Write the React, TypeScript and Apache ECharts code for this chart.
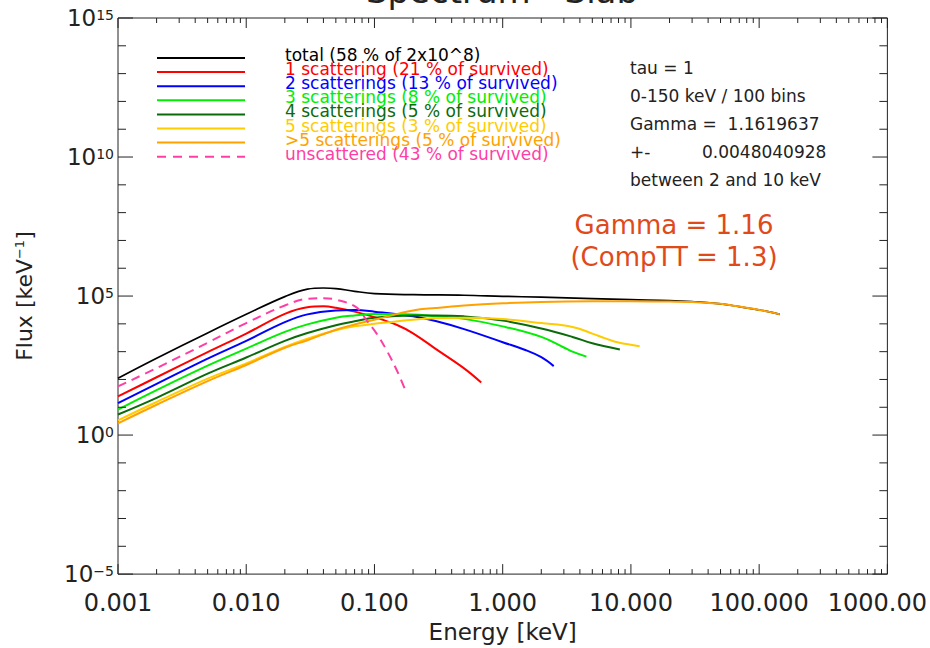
import React, { useEffect, useRef } from 'react';
import * as echarts from 'echarts';

const FONT = 'DejaVu Sans';

// ---- series meta ----
const seriesNames = [
  'total (58 % of 2x10^8)',
  '1 scattering (21 % of survived)',
  '2 scatterings (13 % of survived)',
  '3 scatterings (8 % of survived)',
  '4 scatterings (5 % of survived)',
  '5 scatterings (3 % of survived)',
  '>5 scatterings (5 % of survived)',
  'unscattered (43 % of survived)',
];
const seriesColors = ['#000000', '#ff0000', '#0000ff', '#00ee00', '#0b6b0b', '#ffcc00', '#ffa200', '#ff3ea5'];

// ---- data (energy keV, flux keV^-1) ----
const totalE = [0.001, 0.002, 0.005, 0.01, 0.02, 0.03, 0.04, 0.05, 0.07, 0.1, 0.2, 0.5, 1, 2, 5, 10, 20, 30, 50, 70, 100, 120, 145];
const totalF = [110, 575, 4.7e3, 2.2e4, 9.55e4, 1.78e5, 1.95e5, 1.86e5, 1.48e5, 1.23e5, 1.12e5, 1.07e5, 9.8e4, 9.1e4, 8.1e4, 7.4e4, 6.9e4, 6.3e4, 5.25e4, 4.17e4, 3.16e4, 2.7e4, 2.19e4];

const s1E = [0.001, 0.002, 0.005, 0.01, 0.02, 0.03, 0.04, 0.05, 0.07, 0.1, 0.15, 0.2, 0.3, 0.5, 0.68];
const s1F = [24.5, 120, 955, 4.47e3, 2.29e4, 3.98e4, 4.27e4, 3.8e4, 2.75e4, 1.74e4, 9.1e3, 4.57e3, 1.26e3, 251, 77.6];

const s2E = [0.001, 0.002, 0.005, 0.01, 0.02, 0.03, 0.05, 0.07, 0.1, 0.2, 0.3, 0.5, 1, 1.5, 2, 2.5];
const s2F = [14.1, 69.2, 562, 2.45e3, 1.15e4, 2.19e4, 3.02e4, 3.16e4, 2.75e4, 1.86e4, 1.26e4, 6.46e3, 2.19e3, 1.15e3, 631, 302];

const s3E = [0.001, 0.002, 0.005, 0.01, 0.02, 0.03, 0.05, 0.07, 0.1, 0.2, 0.3, 0.5, 1, 2, 3, 3.5, 4.5];
const s3F = [8.3, 41.7, 316, 1.29e3, 5.13e3, 9.55e3, 1.66e4, 2.0e4, 2.24e4, 2.19e4, 1.86e4, 1.51e4, 8.13e3, 3.39e3, 1.41e3, 1.0e3, 661];

const s4E = [0.001, 0.002, 0.005, 0.01, 0.02, 0.03, 0.05, 0.07, 0.1, 0.2, 0.3, 0.5, 1, 2, 3.5, 5, 8.2];
const s4F = [5.5, 21.9, 162, 617, 2.45e3, 4.68e3, 8.91e3, 1.23e4, 1.66e4, 2.0e4, 2.0e4, 1.86e4, 1.32e4, 6.76e3, 3.39e3, 2.0e3, 1.2e3];

const s5E = [0.001, 0.002, 0.005, 0.01, 0.02, 0.03, 0.05, 0.07, 0.1, 0.2, 0.3, 0.5, 1, 2, 3.5, 5, 6.4, 8, 11.7];
const s5F = [3.39, 15.5, 107, 380, 1.48e3, 2.95e3, 5.89e3, 8.13e3, 1.0e4, 1.41e4, 1.58e4, 1.66e4, 1.48e4, 1.07e4, 7.76e3, 4.47e3, 2.95e3, 2.14e3, 1.58e3];

const s6E = [0.001, 0.002, 0.005, 0.01, 0.02, 0.03, 0.05, 0.07, 0.1, 0.2, 0.3, 0.5, 1, 2, 5, 10, 20, 30, 50, 70, 100, 120, 145];
const s6F = [2.63, 12.3, 87.1, 331, 1.38e3, 2.57e3, 6.17e3, 9.55e3, 1.41e4, 3.02e4, 3.72e4, 4.57e4, 5.5e4, 6.17e4, 6.46e4, 6.46e4, 6.31e4, 6.17e4, 5.25e4, 4.17e4, 3.16e4, 2.7e4, 2.19e4];

const unsE = [0.001, 0.002, 0.005, 0.01, 0.02, 0.03, 0.04, 0.05, 0.072, 0.087, 0.104, 0.124, 0.149, 0.178];
const unsF = [56.2, 257, 2.09e3, 1.07e4, 4.57e4, 7.94e4, 8.32e4, 7.41e4, 3.98e4, 1.32e4, 4.47e3, 1.15e3, 219, 32.4];

const seriesE = [totalE, s1E, s2E, s3E, s4E, s5E, s6E, unsE];
const seriesF = [totalF, s1F, s2F, s3F, s4F, s5F, s6F, unsF];

// ---- axes ----
const X_MIN = 0.001;
const X_MAX = 1000;
const Y_MIN = 1e-5;
const Y_MAX = 1e15;
const xMajorTicks = [0.001, 0.01, 0.1, 1, 10, 100, 1000];
const xTickLabels = ['0.001', '0.010', '0.100', '1.000', '10.000', '100.000', '1000.00'];
const yMajorTicks = [1e-5, 1, 1e5, 1e10, 1e15];
const yTickExponents = ['\u22125', '0', '5', '10', '15'];
const xMinorTicks: number[] = [];
for (let k = -3; k < 3; k++) for (let m = 2; m <= 9; m++) xMinorTicks.push(m * Math.pow(10, k));
const yMinorTicks: number[] = [];
for (let k = -4; k < 15; k++) if (k % 5 !== 0) yMinorTicks.push(Math.pow(10, k));

// ---- annotation text ----
const infoLines = ['tau = 1', '0-150 keV / 100 bins', 'Gamma =  1.1619637', 'between 2 and 10 keV'];
const errLabel = '+-';
const errValue = '0.0048040928';
const gammaLines = ['Gamma = 1.16', '(CompTT = 1.3)'];
const titleText = 'Spectrum - Slab';

const findIdx = (arr: number[], v: number) =>
  arr.findIndex((t) => Math.abs(Math.log10(t) - Math.log10(v)) < 1e-6);

export default function App() {
  const ref = useRef<HTMLDivElement>(null);
  useEffect(() => {
    document.body.style.margin = '0';
    if (!ref.current) return;
    const chart = echarts.init(ref.current, undefined, { renderer: 'svg' });

    const lineSeries = seriesNames.map((name, i) => ({
      name,
      type: 'line',
      data: seriesE[i].map((e, j) => [e, seriesF[i][j]]),
      showSymbol: false,
      symbol: 'none',
      smooth: 0.4,
      lineStyle: {
        color: seriesColors[i],
        width: i === 0 ? 1.7 : 2,
        type: i === 7 ? [9, 6] : 'solid',
      },
      itemStyle: { color: seriesColors[i] },
      silent: true,
      z: 2 + i,
    }));

    const tickData: number[][] = [];
    xMajorTicks.forEach((v) => tickData.push([v, 1, 0, 10]));
    xMinorTicks.forEach((v) => tickData.push([v, 1, 0, 5]));
    yMajorTicks.forEach((v) => tickData.push([1, v, 1, 15]));
    yMinorTicks.forEach((v) => tickData.push([1, v, 1, 8]));

    const tickStyle = { stroke: '#222', lineWidth: 1 };
    const tickSeries = {
      type: 'custom',
      silent: true,
      clip: false,
      z: 20,
      data: tickData,
      renderItem: (params: any, api: any) => {
        const xv = api.value(0);
        const yv = api.value(1);
        const kind = api.value(2);
        const len = api.value(3);
        if (kind === 0) {
          const b = api.coord([xv, Y_MIN]);
          const t = api.coord([xv, Y_MAX]);
          return {
            type: 'group',
            children: [
              { type: 'line', shape: { x1: b[0], y1: b[1], x2: b[0], y2: b[1] - len }, style: tickStyle },
              { type: 'line', shape: { x1: t[0], y1: t[1], x2: t[0], y2: t[1] + len }, style: tickStyle },
            ],
          };
        }
        const l = api.coord([X_MIN, yv]);
        const r = api.coord([X_MAX, yv]);
        return {
          type: 'group',
          children: [
            { type: 'line', shape: { x1: l[0], y1: l[1], x2: l[0] + len, y2: l[1] }, style: tickStyle },
            { type: 'line', shape: { x1: r[0], y1: r[1], x2: r[0] - len, y2: r[1] }, style: tickStyle },
          ],
        };
      },
    };

    const graphic: any[] = [];
    graphic.push({
      type: 'text',
      x: 502,
      y: -9,
      style: { text: titleText, font: `34px ${FONT}`, fill: '#222', align: 'center', verticalAlign: 'middle' },
    });
    seriesNames.forEach((name, i) => {
      const y = 58 + i * 14.1;
      graphic.push({
        type: 'line',
        shape: { x1: 157, y1: y, x2: 245, y2: y },
        style: { stroke: seriesColors[i], lineWidth: 2, lineDash: i === 7 ? [9, 7] : null },
      });
      graphic.push({
        type: 'text',
        x: 285,
        y: y - 3,
        style: {
          text: name, font: `17px ${FONT}`, lineHeight: 13,
          fill: seriesColors[i], align: 'left', verticalAlign: 'middle',
        },
      });
    });
    const infoY = [68, 96, 124, 180];
    infoLines.forEach((t, i) => {
      graphic.push({
        type: 'text',
        x: 630,
        y: infoY[i],
        style: { text: t, font: `17px ${FONT}`, fill: '#222', align: 'left', verticalAlign: 'middle' },
      });
    });
    graphic.push({
      type: 'text', x: 630, y: 152,
      style: { text: errLabel, font: `17px ${FONT}`, fill: '#222', align: 'left', verticalAlign: 'middle' },
    });
    graphic.push({
      type: 'text', x: 702, y: 152,
      style: { text: errValue, font: `17px ${FONT}`, fill: '#222', align: 'left', verticalAlign: 'middle' },
    });
    gammaLines.forEach((t, i) => {
      graphic.push({
        type: 'text',
        x: 674,
        y: 225 + i * 32,
        style: { text: t, font: `26px ${FONT}`, fill: '#e04a1a', align: 'center', verticalAlign: 'middle' },
      });
    });

    const option: any = {
      animation: false,
      backgroundColor: '#ffffff',
      textStyle: { fontFamily: FONT },
      grid: {
        left: 118, top: 18, right: 41, bottom: 69,
        show: true, borderColor: '#222', borderWidth: 1, backgroundColor: 'transparent',
      },
      xAxis: {
        type: 'log',
        logBase: 10,
        min: X_MIN,
        max: X_MAX,
        interval: 1,
        axisLine: { show: false },
        axisTick: { show: false },
        splitLine: { show: false },
        axisLabel: {
          fontSize: 24,
          fontFamily: FONT,
          color: '#222',
          margin: 17,
          showMinLabel: true,
          showMaxLabel: true,
          formatter: (v: number) => {
            const i = findIdx(xMajorTicks, v);
            if (i < 0) return '';
            if (i === xMajorTicks.length - 1) return `{last|${xTickLabels[i]}}`;
            return xTickLabels[i];
          },
          rich: { last: { fontSize: 24, fontFamily: FONT, color: '#222', padding: [0, 20, 0, 0] } },
        },
        name: 'Energy [keV]',
        nameLocation: 'middle',
        nameGap: 42,
        nameTextStyle: { fontSize: 23, fontFamily: FONT, color: '#222' },
      },
      yAxis: {
        type: 'log',
        logBase: 10,
        min: Y_MIN,
        max: Y_MAX,
        interval: 5,
        axisLine: { show: false },
        axisTick: { show: false },
        splitLine: { show: false },
        axisLabel: {
          margin: 4,
          showMinLabel: true,
          showMaxLabel: true,
          formatter: (v: number) => {
            const i = findIdx(yMajorTicks, v);
            if (i < 0) return '';
            return `{b|10}{s|${yTickExponents[i]}}`;
          },
          rich: {
            b: { fontSize: 23, fontFamily: FONT, color: '#222', lineHeight: 20 },
            s: { fontSize: 14, fontFamily: FONT, color: '#222', verticalAlign: 'top', lineHeight: 12 },
          },
        },
        name: '{a|Flux [keV}{s|\u22121}{a|]}',
        nameLocation: 'middle',
        nameGap: 83,
        nameTextStyle: {
          rich: {
            a: { fontSize: 22, fontFamily: FONT, color: '#222' },
            s: { fontSize: 13, fontFamily: FONT, color: '#222', verticalAlign: 'top' },
          },
        },
      },
      series: [...lineSeries, tickSeries],
      graphic,
    };
    chart.setOption(option);
    return () => chart.dispose();
  }, []);
  return <div ref={ref} style={{ width: 930, height: 648 }} />;
}
